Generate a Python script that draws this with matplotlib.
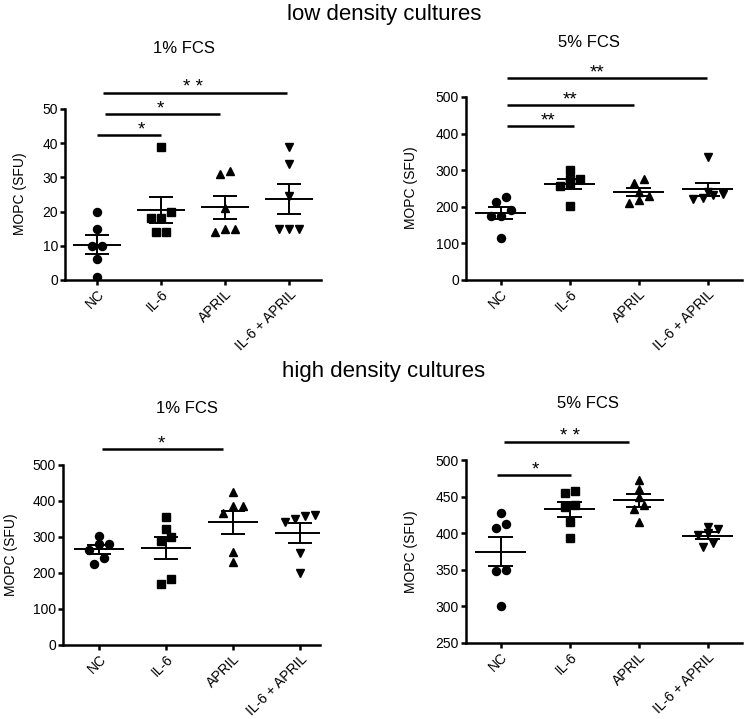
import numpy as np
import matplotlib.pyplot as plt

plt.rcParams['font.family'] = ['Liberation Sans', 'DejaVu Sans']

groups = ['NC', 'IL-6', 'APRIL', 'IL-6 + APRIL']

# low density cultures, 1% FCS
low1_nc = [20, 15, 10, 10, 6, 1]
low1_il6 = [39, 20, 18, 18, 14, 14]
low1_april = [32, 31, 21, 15, 15, 14]
low1_both = [39, 34, 24.5, 15, 15, 15]

# low density cultures, 5% FCS
low5_nc = [226, 212, 191, 175, 175, 116]
low5_il6 = [300, 277, 275, 265, 256, 203]
low5_april = [275, 265, 240, 229, 218, 211]
low5_both = [335, 240, 236, 232, 223, 220]

# high density cultures, 1% FCS
high1_nc = [303, 280, 280, 264, 241, 224]
high1_il6 = [356, 322, 301, 289, 182, 169]
high1_april = [424, 385, 385, 368, 257, 230]
high1_both = [361, 357, 349, 343, 255, 201]

# high density cultures, 5% FCS
high5_nc = [427, 413, 407, 350, 349, 301]
high5_il6 = [457, 455, 438, 436, 415, 394]
high5_april = [473, 460, 449, 439, 433, 415]
high5_both = [409, 406, 400, 397, 387, 381]

# significance brackets: (x start, x end, height, stars, label position along bar)
low1_sig = [(0.0, 1.0, 42.4, '*', 0.7), (0.12, 1.92, 48.4, '*', 0.48),
            (0.09, 2.97, 54.7, '* *', 0.49)]
low5_sig = [(0.1, 1.06, 421, '**', 0.62), (0.1, 1.94, 477, '**', 0.49),
            (0.1, 2.99, 552, '**', 0.45)]
high1_sig = [(0.04, 1.85, 545, '*', 0.49)]
high5_sig = [(-0.05, 1.02, 479, '*', 0.52), (0.05, 1.86, 525, '* *', 0.53)]

markers = ['o', 's', '^', 'v']
msizes = [5.8, 5.2, 6.2, 6.2]

W, H = 746, 719
fig = plt.figure(figsize=(W / 100, H / 100), dpi=100)


def add_axes(left, right, top, bottom):
    # pixel box -> figure fraction
    return fig.add_axes([left / W, 1 - bottom / H, (right - left) / W, (bottom - top) / H])


def swarm(vals, px_y, px_x, thresh=7.0, step=10.0):
    # spread points with nearly equal values side by side, like GraphPad
    offs = np.zeros(len(vals))
    rows = []
    for j, v in enumerate(vals):
        if rows and (v - vals[rows[-1][0]]) * px_y < thresh:
            rows[-1].append(j)
        else:
            rows.append([j])
    for r in rows:
        k = len(r)
        for n, j in enumerate(r):
            offs[j] = (n - (k - 1) / 2) * step / px_x
    return offs


def draw_panel(ax, data, ylim, yticks, xlim, sig):
    ax.set_xlim(xlim)
    ax.set_ylim(ylim)
    pos = ax.get_position()
    px_y = pos.height * H / (ylim[1] - ylim[0])
    px_x = pos.width * W / (xlim[1] - xlim[0])

    for i, vals in enumerate(data):
        vals = np.sort(np.asarray(vals, dtype=float))
        xs = i + swarm(vals, px_y, px_x)
        ax.plot(xs, vals, markers[i], color='black', ms=msizes[i], ls='none')
        mean = vals.mean()
        sem = vals.std(ddof=1) / np.sqrt(len(vals))
        ax.hlines(mean, i - 0.37, i + 0.37, color='black', lw=1.4)
        ax.vlines(i, mean - sem, mean + sem, color='black', lw=1.4)
        ax.hlines([mean - sem, mean + sem], i - 0.18, i + 0.18, color='black', lw=1.4)

    for x0, x1, h, stars, frac in sig:
        ax.plot([x0, x1], [h, h], color='black', lw=1.8, clip_on=False,
                solid_capstyle='butt')
        ax.annotate(stars, xy=(x0 + frac * (x1 - x0), h), xytext=(0, 0.5),
                    textcoords='offset points', ha='center', va='baseline',
                    fontsize=13.5, annotation_clip=False)

    for s in ['top', 'right']:
        ax.spines[s].set_visible(False)
    for s in ['left', 'bottom']:
        ax.spines[s].set_linewidth(1.8)
    ax.set_yticks(yticks)
    ax.set_xticks(range(len(groups)))
    ax.set_xticklabels(groups, rotation=45, ha='right', va='top',
                       rotation_mode='anchor')
    ax.tick_params(direction='out', length=3.5, width=1.8, labelsize=10, pad=1.5)
    ax.tick_params(axis='x', pad=1.5)


ax1 = add_axes(65, 321, 109, 280)
draw_panel(ax1, [low1_nc, low1_il6, low1_april, low1_both], (0, 50),
           range(0, 51, 10), (-0.5, 3.5), low1_sig)

ax2 = add_axes(466, 742, 97, 280)
draw_panel(ax2, [low5_nc, low5_il6, low5_april, low5_both], (0, 500),
           range(0, 501, 100), (-0.5, 3.5), low5_sig)

ax3 = add_axes(63, 320, 465, 645)
draw_panel(ax3, [high1_nc, high1_il6, high1_april, high1_both], (0, 500),
           range(0, 501, 100), (-0.54, 3.3), high1_sig)

ax4 = add_axes(466, 742, 460, 643)
draw_panel(ax4, [high5_nc, high5_il6, high5_april, high5_both], (250, 500),
           range(250, 501, 50), (-0.5, 3.5), high5_sig)

# y axis labels
for x, yc in [(20, 194), (411, 188), (11, 555), (411, 552)]:
    fig.text(x / W, 1 - yc / H, 'MOPC (SFU)', rotation=90, ha='center',
             va='center', fontsize=10)

# headings
fig.text(384 / W, 1 - 20 / H, 'low density cultures', ha='center',
         va='baseline', fontsize=16)
fig.text(384 / W, 1 - 377 / H, 'high density cultures', ha='center',
         va='baseline', fontsize=16)
fig.text(184 / W, 1 - 53 / H, '1% FCS', ha='center', va='baseline', fontsize=12)
fig.text(589 / W, 1 - 47 / H, '5% FCS', ha='center', va='baseline', fontsize=12)
fig.text(187 / W, 1 - 413 / H, '1% FCS', ha='center', va='baseline', fontsize=12)
fig.text(588 / W, 1 - 408 / H, '5% FCS', ha='center', va='baseline', fontsize=12)

fig.savefig('out.png', dpi=100)
